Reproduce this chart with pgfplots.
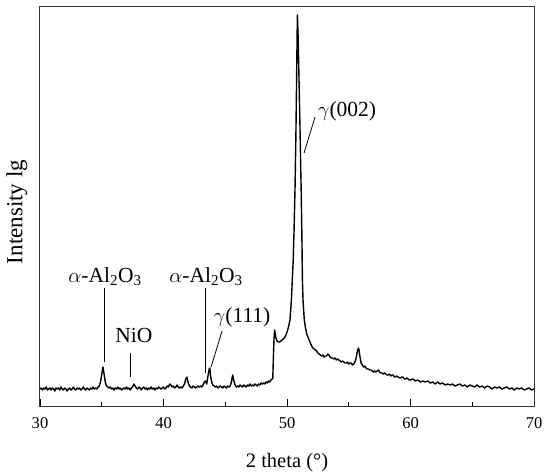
\documentclass[border=0pt]{standalone}
\usepackage{pgfplots}
\pgfplotsset{compat=1.18}
\usepackage{fontspec}
\setmainfont{Liberation Serif}
\begin{document}
\begin{tikzpicture}
\begin{axis}[
  scale only axis, width=494pt, height=399pt,
  xmin=30, xmax=70, ymin=0, ymax=399,
  xtick={30,40,50,60,70}, minor xtick={35,45,55,65},
  ytick=\empty,
  tick align=inside, xtick pos=bottom,
  major tick length=7pt, minor tick length=4pt,
  axis line style={line width=1pt, black!80},
  every tick/.style={black, line width=0.9pt},
  /pgf/number format/assume math mode=true,
  xticklabel style={font=\fontsize{16.5}{18}\selectfont, anchor=base, yshift=-22pt},
  xlabel={2 theta (\textdegree)},
  ylabel={Intensity lg},
  xlabel style={font=\fontsize{20.5}{22}\selectfont, at={(axis description cs:0.5,-0.153)}, anchor=base},
  ylabel style={font=\fontsize{23}{25}\selectfont, at={(axis description cs:-0.0466,0.486)}, anchor=center},
  clip=false,
]
\addplot[black, line width=1.4pt, line join=round] coordinates {
(30.0,17) (30.1,18) (30.2,16) (30.3,18) (30.4,17) (30.5,19) (30.6,16) (30.7,17) (30.8,18) (30.9,16)
(31.0,18) (31.1,17) (31.2,15) (31.3,18) (31.4,17) (31.5,18) (31.6,16) (31.7,19) (31.8,17) (31.9,16)
(32.0,18) (32.1,17) (32.2,15) (32.3,17) (32.4,18) (32.5,16) (32.6,17) (32.7,19) (32.8,17) (32.9,16)
(33.0,18) (33.1,17) (33.2,18) (33.3,16) (33.4,17) (33.5,19) (33.6,17) (33.7,16) (33.8,18) (33.9,17)
(34.0,16) (34.1,18) (34.2,17) (34.3,19) (34.4,17) (34.5,18) (34.6,17) (34.7,19) (34.8,20) (34.9,24)
(35.0,32) (35.1,39) (35.2,31) (35.3,23) (35.4,20) (35.5,19) (35.6,18) (35.7,19) (35.8,17) (35.9,18)
(36.0,16) (36.1,18) (36.2,17) (36.3,19) (36.4,17) (36.5,18) (36.6,16) (36.7,17) (36.8,18) (36.9,17)
(37.0,19) (37.1,17) (37.2,18) (37.3,16) (37.4,18) (37.5,19) (37.6,22) (37.7,20) (37.8,18) (37.9,17)
(38.0,19) (38.1,18) (38.2,16) (38.3,18) (38.4,19) (38.5,17) (38.6,18) (38.7,16) (38.8,18) (38.9,17)
(39.0,19) (39.1,17) (39.2,18) (39.3,16) (39.4,18) (39.5,17) (39.6,19) (39.7,18) (39.8,17) (39.9,18)
(40.0,19) (40.1,17) (40.2,18) (40.3,20) (40.4,19) (40.5,22) (40.6,21) (40.7,19) (40.8,20) (40.9,18)
(41.0,19) (41.1,21) (41.2,19) (41.3,18) (41.4,19) (41.5,18) (41.6,20) (41.7,22) (41.8,27) (41.9,29)
(42.0,23) (42.1,20) (42.2,19) (42.3,18) (42.4,20) (42.5,19) (42.6,18) (42.7,19) (42.8,20) (42.9,19)
(43.0,20) (43.1,19) (43.2,21) (43.3,24) (43.4,25) (43.5,22) (43.6,30) (43.7,37) (43.75,38) (43.8,31)
(43.9,24) (44.0,21) (44.1,20) (44.2,19) (44.3,20) (44.4,18) (44.5,19) (44.6,20) (44.7,19) (44.8,18)
(44.9,20) (45.0,19) (45.1,18) (45.2,20) (45.3,19) (45.4,20) (45.5,24) (45.6,31) (45.7,25) (45.8,21)
(45.9,19) (46.0,20) (46.1,19) (46.2,21) (46.3,20) (46.4,19) (46.5,21) (46.6,20) (46.7,19) (46.8,21)
(46.9,20) (47.0,22) (47.1,20) (47.2,21) (47.3,20) (47.4,22) (47.5,21) (47.6,20) (47.7,22) (47.8,21)
(47.9,23) (48.0,22) (48.1,23) (48.2,22) (48.3,24) (48.4,23) (48.5,25) (48.6,24) (48.7,26) (48.8,27)
(48.85,28) (48.9,50) (48.95,68) (49.0,76) (49.05,72) (49.1,68) (49.2,65) (49.3,64) (49.4,64) (49.5,65)
(49.6,66) (49.7,67) (49.84,69) (50.0,74) (50.1,78) (50.24,86) (50.35,105) (50.43,126) (50.5,145)
(50.57,175) (50.65,218) (50.72,270) (50.78,330) (50.84,391) (50.9,370) (50.95,340) (51.0,310)
(51.05,280) (51.1,245) (51.15,215) (51.2,175) (51.25,125) (51.3,105) (51.4,86) (51.5,78) (51.6,72)
(51.7,69) (51.85,64) (52.0,60) (52.1,58) (52.2,57) (52.3,56) (52.4,55) (52.5,53) (52.6,52) (52.7,51)
(52.8,50) (52.9,51) (53.0,49) (53.1,50) (53.2,50) (53.3,52) (53.4,51) (53.5,49) (53.6,48) (53.7,48)
(53.8,47) (53.9,48) (54.0,46) (54.1,47) (54.2,46) (54.3,45) (54.4,44) (54.5,45) (54.6,44) (54.7,43)
(54.8,43) (54.9,44) (55.0,42) (55.1,43) (55.2,43) (55.3,41) (55.4,42) (55.5,44) (55.6,48) (55.7,55)
(55.8,58) (55.9,50) (56.0,43) (56.1,41) (56.2,39) (56.3,40) (56.4,38) (56.5,37) (56.6,37) (56.7,36)
(56.8,36) (56.9,35) (57.0,34) (57.1,35) (57.2,34) (57.3,35) (57.4,36) (57.5,34) (57.6,33) (57.7,33)
(57.8,32) (57.9,33) (58.0,32) (58.1,31) (58.2,31) (58.3,32) (58.4,30) (58.5,31) (58.6,31) (58.7,29)
(58.8,29) (58.9,30) (59.0,29) (59.1,28) (59.2,28) (59.3,29) (59.4,29) (59.5,27) (59.6,27) (59.7,28)
(59.8,27) (59.9,26) (60.0,26) (60.2,27) (60.4,25) (60.6,26) (60.8,24) (61.0,25) (61.2,24) (61.4,25)
(61.6,23) (61.8,24) (62.0,22) (62.2,24) (62.4,22) (62.6,23) (62.8,21) (63.0,22) (63.2,21) (63.4,22)
(63.6,20) (63.8,21) (64.0,22) (64.2,20) (64.4,21) (64.6,19) (64.8,21) (65.0,20) (65.2,19) (65.4,21)
(65.6,19) (65.8,20) (66.0,18) (66.2,20) (66.4,19) (66.6,17) (66.8,19) (67.0,18) (67.2,19) (67.4,17)
(67.6,18) (67.8,19) (68.0,17) (68.2,18) (68.4,16) (68.6,18) (68.8,17) (69.0,18) (69.2,16) (69.4,17)
(69.6,18) (69.8,16) (70.0,17)
};
% annotation lines
\addplot[black, line width=0.8pt] coordinates {(35.18,118) (35.18,44)};
\addplot[black, line width=0.8pt] coordinates {(37.29,53) (37.29,29)};
\addplot[black, line width=0.8pt] coordinates {(43.36,118) (43.36,33)};
\addplot[black, line width=0.8pt] coordinates {(44.74,75) (43.85,39)};
\addplot[black, line width=0.8pt] coordinates {(52.27,289) (51.38,253)};
% annotation texts
\node[anchor=base, font=\fontsize{21.5}{23}\selectfont, inner sep=0pt] at (axis cs:35.26,124) {$\alpha$-Al\textsubscript{2}O\textsubscript{3}};
\node[anchor=base, font=\fontsize{21.5}{23}\selectfont, inner sep=0pt] at (axis cs:43.44,124) {$\alpha$-Al\textsubscript{2}O\textsubscript{3}};
\node[anchor=base, font=\fontsize{21.5}{23}\selectfont, inner sep=0pt] at (axis cs:37.61,64) {NiO};
\node[anchor=base, font=\fontsize{21.5}{23}\selectfont, inner sep=0pt] at (axis cs:46.36,84) {$\gamma$(111)};
\node[anchor=base, font=\fontsize{21.5}{23}\selectfont, inner sep=0pt] at (axis cs:54.86,289) {$\gamma$(002)};
\end{axis}
\path ([shift={(-40pt,-65pt)}]current axis.south west) rectangle ([shift={(16pt,7pt)}]current axis.north east);
\end{tikzpicture}
\end{document}
